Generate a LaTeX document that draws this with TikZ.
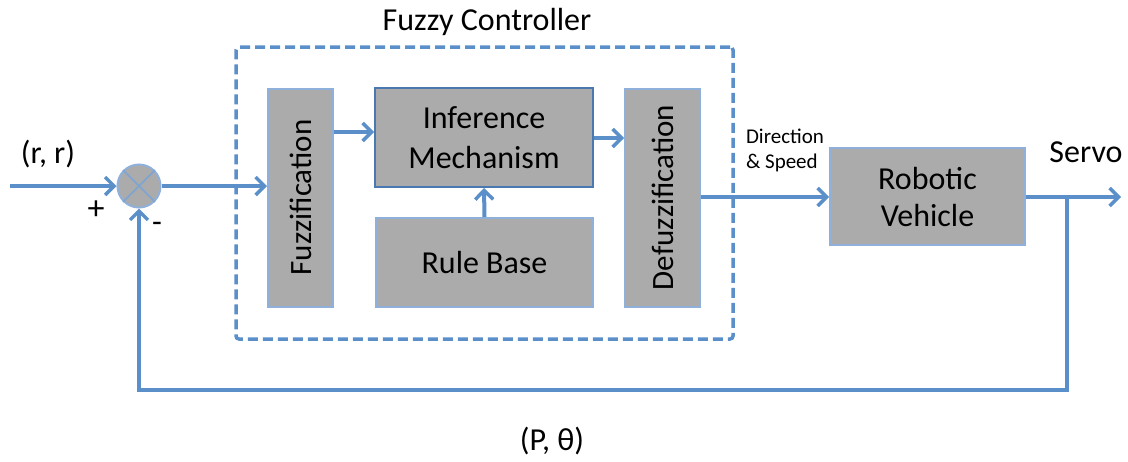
\documentclass[tikz,border=0pt]{standalone}
\usepackage{fontspec}
\setmainfont{Carlito}
\usetikzlibrary{arrows.meta}
\definecolor{flow}{HTML}{5B8FC9}
\definecolor{boxfill}{HTML}{ABABAB}
\definecolor{boxline}{HTML}{8EB0DA}
\definecolor{darkline}{HTML}{4A78B0}
\begin{document}
\begin{tikzpicture}[x=1pt,y=-1pt,
  big/.style={font=\fontsize{32}{37}\selectfont},
  block/.style={draw=boxline, line width=2pt, fill=boxfill, inner sep=0pt, big},
  link/.style={draw=flow, line width=4pt, -{Straight Barb[length=9pt,width=18pt,line width=3.5pt]}},
  plain/.style={draw=flow, line width=4pt}]
\useasboundingbox (0,0) rectangle (1128,461);
% controller frame
\node[draw=flow, dash pattern=on 10pt off 5pt, line width=3.5pt, rounded corners=3pt, minimum width=497pt, minimum height=292pt] (frame) at (484.5,193) {};
\node[big] (ftitle) at (487,22) {Fuzzy Controller};
% blocks
\node[block, minimum width=65pt, minimum height=218pt] (fuzz) at (300.5,197.5) {\rotatebox{90}{\fontsize{31}{36}\selectfont Fuzzification}};
\node[block, draw=darkline, minimum width=218pt, minimum height=99pt, align=center, font=\fontsize{32}{40}\selectfont] (inf) at (484,137.5) {Inference\\Mechanism};
\node[block, minimum width=217pt, minimum height=89pt] (rule) at (484.5,262.5) {Rule Base};
\node[block, minimum width=75pt, minimum height=218pt] (defuzz) at (662.5,197.5) {\rotatebox{90}{\fontsize{31}{36}\selectfont Defuzzification}};
\node[block, minimum width=195pt, minimum height=97pt, align=center] (robot) at (927.5,196.5) {Robotic\\Vehicle};
% summing junction
\node[circle, draw=boxline, line width=2pt, fill=boxfill, minimum size=43pt, inner sep=0pt] (sum) at (139,186) {};
\draw[flow!80, line width=1.6pt] (sum.north west) -- (sum.south east) (sum.north east) -- (sum.south west);
% labels
\node[big] (rr) at (48,154) {(r, r)};
\node[font=\fontsize{34}{38}\selectfont] (plus) at (96,210) {+};
\node[font=\fontsize{32}{36}\selectfont] (minus) at (157,227) {-};
\node[font=\fontsize{21}{25}\selectfont, align=left] (ds) at (785,150) {Direction\\\& Speed};
\node[big] (servo) at (1086,152) {Servo};
\node[big] (pt) at (552,441) {(P, θ)};
% coordinates
\coordinate (in) at (10,186);
\coordinate (out) at (1121,197);
\coordinate (tap) at (1067,197);
\coordinate (fb1) at (1067,390);
\coordinate (fb2) at (139,390);
% connectors
\draw[link] (in) -- (sum.west);
\draw[link] (sum.east) -- (fuzz.west |- sum.east);
\draw[link] (fuzz.east |- 0,132) -- (inf.west |- 0,132);
\draw[link] (inf.east |- 0,138) -- (defuzz.west |- 0,138);
\draw[link] (rule.north) -- (inf.south);
\draw[link] (defuzz.east |- 0,197) -- (robot.west |- 0,197);
\draw[link] (robot.east |- 0,197) -- (out);
\draw[link] (tap) -- (fb1) -- (fb2) -- (sum.south);
\end{tikzpicture}
\end{document}
